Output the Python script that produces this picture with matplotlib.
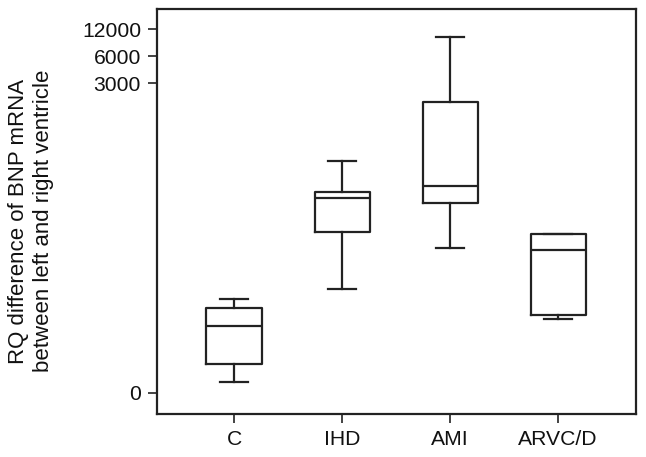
import numpy as np
import matplotlib
matplotlib.use("Agg")
import matplotlib.pyplot as plt

plt.rcParams['font.family'] = ['Liberation Sans', 'DejaVu Sans']

categories = ["C", "IHD", "AMI", "ARVC/D"]
whisker_low = [0.33, 13.7, 41.3, 5.81]
q1 = [1.10, 63.5, 133, 6.55]
median = [4.64, 154, 210, 39.2]
q3 = [7.98, 179.7, 1850, 59.7]
whisker_high = [10.3, 399, 9924, 59.7]
ytick_values = [0, 3000, 6000, 12000]
ytick_labels = ["0", "3000", "6000", "12000"]

stats = []
for i, c in enumerate(categories):
    stats.append(dict(label=c, whislo=whisker_low[i], q1=q1[i], med=median[i],
                      q3=q3[i], whishi=whisker_high[i], fliers=[]))

fig = plt.figure(figsize=(6.46, 4.57), dpi=100)
ax = fig.add_axes([0.243, 0.0941, 0.7415, 0.886])

def fwd(x):
    return np.log10(np.maximum(np.asarray(x, dtype=float) + 1, 1e-9))

def inv(y):
    return 10 ** np.asarray(y, dtype=float) - 1

ax.set_yscale('function', functions=(fwd, inv))

col = '#222222'
lw = 1.6
props = dict(color=col, linewidth=lw)
ax.bxp(stats, positions=np.arange(1, len(categories) + 1), widths=0.51,
       showfliers=False, boxprops=props, whiskerprops=props, capprops=props,
       medianprops=props, manage_ticks=False)

ax.set_xlim(0.287, 4.72)
ax.set_ylim(-0.419, 20290)
ax.set_xticks(np.arange(1, len(categories) + 1))
ax.set_xticklabels(categories)
ax.set_yticks(ytick_values)
ax.set_yticklabels(ytick_labels)
ax.minorticks_off()
ax.tick_params(axis='both', which='major', direction='out', length=6.5, width=1.2,
               color=col, labelsize=15.2, labelcolor='#111111', pad=5)
for s in ax.spines.values():
    s.set_linewidth(1.6)
    s.set_color(col)

ax.set_ylabel("RQ difference of BNP mRNA\nbetween left and right ventricle",
              fontsize=16, color='#111111', linespacing=1.3)
ax.yaxis.set_label_coords(-0.214, 0.4765)

fig.savefig("out.png", dpi=100)
